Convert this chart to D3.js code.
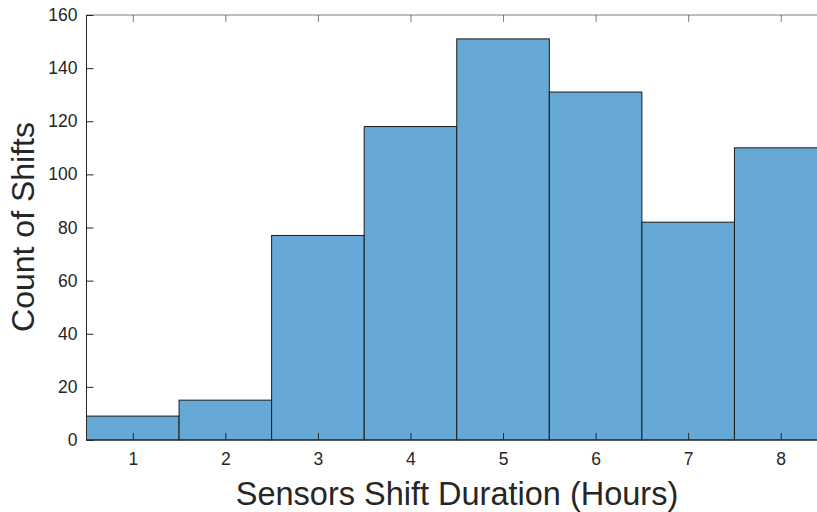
<!DOCTYPE html>
<html><head><meta charset="utf-8">
<script src="https://cdn.jsdelivr.net/npm/d3@7"></script>
<style>body{margin:0;background:#fff}svg{display:block}text{font-family:"Liberation Sans",Arial,Helvetica,sans-serif}</style>
</head><body>
<svg id="c" width="817" height="512"></svg>
<script>
const categories = [1,2,3,4,5,6,7,8];
const counts = [9,15,77,118,151,131,82,110];
const yTicks = [0,20,40,60,80,100,120,140,160];
const xLabel = "Sensors Shift Duration (Hours)";
const yLabel = "Count of Shifts";

const svg = d3.select("#c");
const L = 86.5, T = 15, B = 440, R = 827;
const x = d3.scaleLinear().domain([0.5, 8.5]).range([L, R]);
const y = d3.scaleLinear().domain([0, 160]).range([B, T]);
const axisCol = "#262626";
const ff = '"Liberation Sans",Arial,Helvetica,sans-serif';

const g = svg.append("g");
g.selectAll("rect.bar").data(categories).join("rect")
  .attr("class","bar")
  .attr("x", d => x(d-0.5))
  .attr("width", d => x(d+0.5)-x(d-0.5))
  .attr("y", (d,i) => y(counts[i]))
  .attr("height", (d,i) => y(0)-y(counts[i]))
  .attr("fill", "#66a9d7")
  .attr("stroke", "#1a1a1a")
  .attr("stroke-width", 1);

// box
g.append("line").attr("x1",L).attr("x2",R).attr("y1",T).attr("y2",T).attr("stroke",axisCol).attr("stroke-opacity",0.6);
g.append("line").attr("x1",L).attr("x2",R).attr("y1",B).attr("y2",B).attr("stroke",axisCol);
g.append("line").attr("x1",L).attr("x2",L).attr("y1",T).attr("y2",B).attr("stroke",axisCol);

// y axis
const ya = d3.axisLeft(y).tickValues(yTicks).tickSizeInner(-7).tickSizeOuter(0).tickPadding(9);
const yg = svg.append("g").attr("transform",`translate(${L},0)`).call(ya);
yg.attr("font-family", ff);
yg.select(".domain").remove();
yg.selectAll("line").attr("stroke",axisCol);
yg.selectAll("text").attr("font-size",17.5).attr("fill",axisCol);

// x axis bottom
const xa = d3.axisBottom(x).tickValues(categories).tickSizeInner(-7).tickSizeOuter(0).tickPadding(13);
const xg = svg.append("g").attr("transform",`translate(0,${B})`).call(xa);
xg.attr("font-family", ff);
xg.select(".domain").remove();
xg.selectAll("line").attr("stroke",axisCol);
xg.selectAll("text").attr("font-size",17.5).attr("fill",axisCol);

// x axis top ticks
const xt = d3.axisTop(x).tickValues(categories).tickSizeInner(-7).tickSizeOuter(0).tickFormat("");
const xtg = svg.append("g").attr("transform",`translate(0,${T})`).call(xt);
xtg.select(".domain").remove();
xtg.selectAll("line").attr("stroke",axisCol).attr("stroke-opacity",0.6);

// labels
svg.append("text").attr("x", 457).attr("y", 505).attr("text-anchor","middle")
  .attr("font-size",32.5).attr("fill",axisCol).text(xLabel);
svg.append("text").attr("transform",`translate(34,227) rotate(-90)`).attr("text-anchor","middle")
  .attr("font-size",32).attr("fill",axisCol).text(yLabel);
</script>
</body></html>
